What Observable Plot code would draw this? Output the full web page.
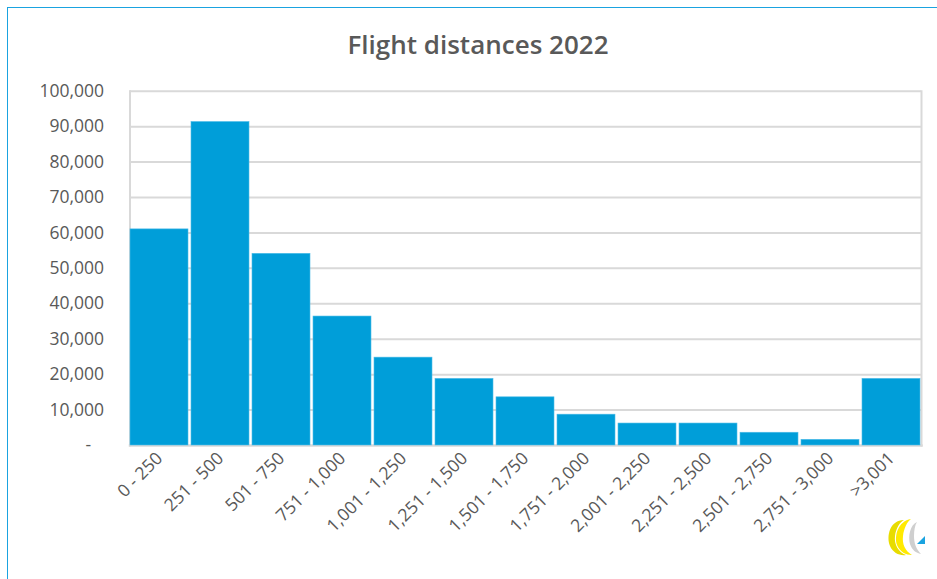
<!DOCTYPE html>
<html>
<head>
<meta charset="utf-8">
<script src="https://cdn.jsdelivr.net/npm/d3@7"></script>
<script src="https://cdn.jsdelivr.net/npm/@observablehq/plot@0.6"></script>
<style>
  html, body { margin: 0; padding: 0; background: #fff; }
  #wrap { position: relative; width: 937px; height: 579px; overflow: hidden; background: #fff; }
  #border { position: absolute; left: 7px; top: 7px; width: 2000px; height: 2000px; border-left: 1.5px solid #1aa3e0; border-top: 1.5px solid #1aa3e0; box-sizing: border-box; }
  #title { position: absolute; left: 0; width: 956px; top: 26px; text-align: center; font-family: "Open Sans", sans-serif; font-weight: 600; font-size: 26px; color: #595959; }
  #chart { position: absolute; left: 0; top: 60px; }
  #logo { position: absolute; left: 884px; top: 514px; }
</style>
</head>
<body>
<div id="wrap">
  <div id="border"></div>
  <div id="title">Flight distances 2022</div>
  <div id="chart"></div>
  <svg id="logo" width="46" height="46" viewBox="0 0 46 46">
    <path d="M20 6 C6 6 2 22 6 32 C9 39 16 42 22 41 C14 38 10 30 11 22 C12 14 16 8 20 6 Z" fill="#e8dc00"/>
    <path d="M27 5 C14 7 10 22 13 31 C16 38 22 41 28 41 C21 37 18 30 19 22 C20 14 23 8 27 5 Z" fill="#ffea00"/>
    <path d="M33 8 C26 11 24 22 26 30 C28 36 32 39 37 40 C32 35 30 29 30 22 C30 16 31 11 33 8 Z" fill="#cfcfcf"/>
    <path d="M33 30 L41 22 L41 30 Z" fill="#1aa3e0"/>
  </svg>
</div>
<script>
const categories = ["0 - 250", "251 - 500", "501 - 750", "751 - 1,000", "1,001 - 1,250", "1,251 - 1,500", "1,501 - 1,750", "1,751 - 2,000", "2,001 - 2,250", "2,251 - 2,500", "2,501 - 2,750", "2,751 - 3,000", ">3,001"];
const flights = [61000, 91300, 54100, 36400, 24800, 18800, 13600, 8700, 6200, 6200, 3600, 1600, 18800];
const yTicks = [0, 10000, 20000, 30000, 40000, 50000, 60000, 70000, 80000, 90000, 100000];

const data = categories.map((c, i) => ({category: c, value: flights[i]}));
const fmt = d3.format(",");

const plot = Plot.plot({
  width: 937,
  height: 519,
  marginLeft: 129.5,
  marginRight: 16,
  marginTop: 30.7,
  marginBottom: 134,
  style: {fontFamily: "'Open Sans', sans-serif", color: "#595959", background: "transparent", overflow: "visible"},
  x: {type: "band", domain: categories, padding: 0.045, paddingOuter: 0, align: 0.5},
  y: {domain: [0, 100000], ticks: yTicks},
  marks: [
    Plot.ruleY(yTicks.filter(d => d > 0), {stroke: "#d9d9d9", strokeWidth: 2}),
    Plot.frame({stroke: "#d9d9d9", strokeWidth: 2, anchor: "left"}),
    Plot.frame({stroke: "#d9d9d9", strokeWidth: 2, anchor: "right"}),
    Plot.frame({stroke: "#d9d9d9", strokeWidth: 2.5, anchor: "bottom"}),
    Plot.barY(data, {x: "category", y: "value", fill: "#009ed9", stroke: "#4dbce8", strokeWidth: 0.6}),
    Plot.axisY({ticks: yTicks, tickSize: 0, tickPadding: 26, tickFormat: d => d === 0 ? "-\u2007\u2009" : fmt(d), fontSize: 17.5, label: null, fill: "#595959"}),
    Plot.axisX({tickSize: 0, tickPadding: 10, tickRotate: -45, fontSize: 17.5, label: null, fill: "#595959"})
  ]
});
document.getElementById("chart").appendChild(plot);
</script>
</body>
</html>
